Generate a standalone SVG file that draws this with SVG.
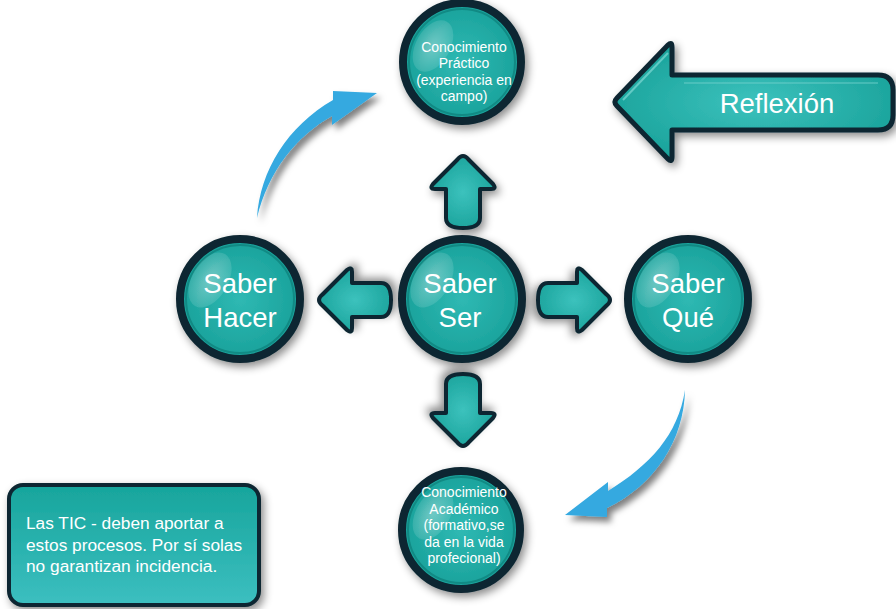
<svg xmlns="http://www.w3.org/2000/svg" width="896" height="609" viewBox="0 0 896 609">
  <defs>
    <radialGradient id="tealBall" cx="0.5" cy="0.5" r="0.6">
      <stop offset="0" stop-color="#2fb9b3"/>
      <stop offset="1" stop-color="#159d96"/>
    </radialGradient>
    <radialGradient id="tealArrow" cx="0.5" cy="0.5" r="0.6">
      <stop offset="0" stop-color="#3cc2bd"/>
      <stop offset="1" stop-color="#17a098"/>
    </radialGradient>
    <linearGradient id="tealBox" x1="0" y1="0" x2="0" y2="1">
      <stop offset="0" stop-color="#17a59c"/>
      <stop offset="1" stop-color="#3cbfc0"/>
    </linearGradient>
    <radialGradient id="gloss" cx="0.5" cy="0.5" r="0.5">
      <stop offset="0" stop-color="#ffffff" stop-opacity="0.35"/>
      <stop offset="1" stop-color="#ffffff" stop-opacity="0.12"/>
    </radialGradient>
    <filter id="shadow" x="-30%" y="-30%" width="160%" height="160%">
      <feDropShadow dx="3" dy="4" stdDeviation="4" flood-color="#000" flood-opacity="0.45"/>
    </filter>
    <filter id="blueShadow" x="-30%" y="-30%" width="160%" height="160%">
      <feDropShadow dx="4" dy="5" stdDeviation="3" flood-color="#000" flood-opacity="0.5"/>
    </filter>
    <!-- block arrow pointing up, centred on the origin -->
    <path id="blockArrow" d="M0,-36 Q3,-36 6,-32 L30,-8 Q34,-3 28,-3 L17,-3 L17,26 Q17,36 0,36 Q-17,36 -17,26 L-17,-3 L-28,-3 Q-34,-3 -30,-8 L-6,-32 Q-3,-36 0,-36 Z"/>
    <style>
      .ring { fill: url(#tealBall); stroke: #0b2631; stroke-width: 8; }
      .inner { fill: none; stroke: #118a84; stroke-width: 2; }
      .shine { fill: url(#gloss); }
      .block { fill: url(#tealArrow); stroke: #0b2631; stroke-width: 4; stroke-linejoin: round; }
      .blue { fill: #35a9e0; }
      .big { font-family: "Liberation Sans", Arial, sans-serif; font-size: 27.5px; fill: #ffffff; text-anchor: middle; }
      .small { font-family: "Liberation Sans", Arial, sans-serif; font-size: 14px; fill: #ffffff; text-anchor: middle; }
      .note { font-family: "Liberation Sans", Arial, sans-serif; font-size: 17.3px; fill: #ffffff; }
    </style>
  </defs>

  <rect width="896" height="609" fill="#ffffff"/>

  <!-- connectors -->
  <g id="connectors">
    <use href="#blockArrow" class="block" filter="url(#shadow)" transform="translate(463,192)"/>
    <use href="#blockArrow" class="block" filter="url(#shadow)" transform="translate(355,300) rotate(-90)"/>
    <use href="#blockArrow" class="block" filter="url(#shadow)" transform="translate(574,300) rotate(90)"/>
    <use href="#blockArrow" class="block" filter="url(#shadow)" transform="translate(463,410) rotate(180)"/>
    <path class="blue" filter="url(#blueShadow)" d="M257,218 C260,170 288,126 333,100 L333,91 L377,93 L332,125 L332,116 C296,136 268,172 257,218 Z"/>
    <path class="blue" filter="url(#blueShadow)" d="M685,390 C684,440 655,485 607,508 L607,517 L565,515 L608,482 L608,491 C650,465 678,435 685,390 Z"/>
  </g>

  <!-- reflection arrow -->
  <g id="reflexion">
    <path d="M617,98 L668,45 Q672,41 672,47 L672,75 L878,75 Q893,75 893,90 L893,115 Q893,130 878,130 L672,130 L672,157 Q672,163 668,159 L617,106 Q613,102 617,98 Z" fill="url(#tealArrow)" stroke="#0b2631" stroke-width="5" stroke-linejoin="round" filter="url(#shadow)"/>
    <path d="M623,100 L668,53" stroke="#7fd8d4" stroke-width="2" fill="none" opacity="0.7"/>
    <path d="M684,83 L878,83" stroke="#6fd0cc" stroke-width="1.5" fill="none" opacity="0.6"/>
    <text class="big" x="777" y="113">Reflexión</text>
  </g>

  <g id="practico">
    <circle class="ring" cx="462" cy="62" r="59" filter="url(#shadow)"/>
    <circle class="inner" cx="462" cy="62" r="53"/>
    <ellipse class="shine" cx="433" cy="46" rx="17" ry="28" transform="rotate(30 433 46)"/>
    <text class="small" x="464" y="52">Conocimiento</text>
    <text class="small" x="464" y="68">Práctico</text>
    <text class="small" x="464" y="85">(experiencia en</text>
    <text class="small" x="464" y="101">campo)</text>
  </g>

  <g id="saber-ser">
    <circle class="ring" cx="462" cy="299" r="60" filter="url(#shadow)"/>
    <circle class="inner" cx="462" cy="299" r="54"/>
    <ellipse class="shine" cx="432" cy="280" rx="18" ry="30" transform="rotate(30 432 280)"/>
    <text class="big" x="460" y="293">Saber</text>
    <text class="big" x="460" y="327">Ser</text>
  </g>

  <g id="saber-hacer">
    <circle class="ring" cx="240" cy="299" r="60" filter="url(#shadow)"/>
    <circle class="inner" cx="240" cy="299" r="54"/>
    <ellipse class="shine" cx="210" cy="280" rx="18" ry="30" transform="rotate(30 210 280)"/>
    <text class="big" x="240" y="293">Saber</text>
    <text class="big" x="240" y="327">Hacer</text>
  </g>

  <g id="saber-que">
    <circle class="ring" cx="688" cy="299" r="60" filter="url(#shadow)"/>
    <circle class="inner" cx="688" cy="299" r="54"/>
    <ellipse class="shine" cx="658" cy="280" rx="18" ry="30" transform="rotate(30 658 280)"/>
    <text class="big" x="688" y="293">Saber</text>
    <text class="big" x="688" y="327">Qué</text>
  </g>

  <g id="academico">
    <circle class="ring" cx="461" cy="530" r="59" filter="url(#shadow)"/>
    <circle class="inner" cx="461" cy="530" r="53"/>
    <ellipse class="shine" cx="433" cy="514" rx="17" ry="28" transform="rotate(30 433 514)"/>
    <text class="small" x="464" y="497">Conocimiento</text>
    <text class="small" x="464" y="514">Académico</text>
    <text class="small" x="464" y="530">(formativo,se</text>
    <text class="small" x="464" y="547">da en la vida</text>
    <text class="small" x="464" y="563">profecional)</text>
  </g>

  <g id="nota">
    <rect x="9" y="485" width="250" height="120" rx="14" fill="url(#tealBox)" stroke="#0b2631" stroke-width="4" filter="url(#shadow)"/>
    <text class="note" x="26" y="529">Las TIC - deben aportar a</text>
    <text class="note" x="26" y="551">estos procesos. Por sí solas</text>
    <text class="note" x="26" y="572">no garantizan incidencia.</text>
  </g>
</svg>
